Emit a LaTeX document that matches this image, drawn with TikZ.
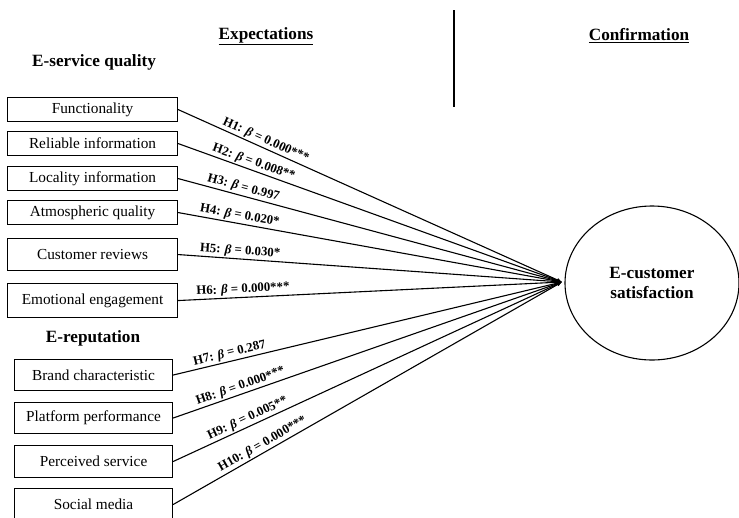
\documentclass[tikz,border=0pt]{standalone}
\usepackage{fontspec}
\setmainfont{Liberation Serif}
\usetikzlibrary{arrows.meta,shapes.geometric}
\begin{document}
\begin{tikzpicture}[x=1pt,y=-1pt,
  box/.style={draw,line width=1.1pt,minimum height=24pt,inner sep=0pt,font=\fontsize{15.3}{17}\selectfont,anchor=north west},
  head/.style={font=\fontsize{17.2}{19}\selectfont\bfseries},
  conn/.style={line width=1.1pt,-{Latex[length=5pt,width=4pt]}},
  lab/.style={sloped,above,inner sep=1.5pt,font=\fontsize{12.8}{14}\selectfont\bfseries}]
\useasboundingbox (0,0) rectangle (739,517);
\clip (0,0) rectangle (739,517);
% headings
\node[head] (exp) at (266,36) {\underline{Expectations}};
\node[head] (conf) at (639,36) {\underline{Confirmation}};
\node[head] (esq) at (94,62) {E-service quality};
\node[head] (erep) at (93,338) {E-reputation};
\coordinate (vt) at (454,10);
\coordinate (vb) at (454,107);
\draw[line width=1.5pt] (vt) -- (vb);
% boxes
\node[box,minimum width=170pt] (b1) at (7,97) {Functionality};
\node[box,minimum width=170pt] (b2) at (7,131) {Reliable information};
\node[box,minimum width=170pt] (b3) at (7,166) {Locality information};
\node[box,minimum width=170pt] (b4) at (7,200) {Atmospheric quality};
\node[box,minimum width=170pt,minimum height=32pt] (b5) at (7,238) {Customer reviews};
\node[box,minimum width=170pt,minimum height=34pt] (b6) at (7,283) {Emotional engagement};
\node[box,minimum width=158pt,minimum height=31pt] (b7) at (14,359) {Brand characteristic};
\node[box,minimum width=158pt,minimum height=31pt] (b8) at (14,402) {Platform performance};
\node[box,minimum width=158pt,minimum height=32pt] (b9) at (14,445) {Perceived service};
\node[box,minimum width=158pt,minimum height=32pt] (b10) at (14,488) {Social media};
% ellipse
\node[draw,line width=1.1pt,ellipse,minimum width=174pt,minimum height=154pt,align=center,
  font=\fontsize{17.2}{20}\selectfont\bfseries] (sat) at (652,283) {E-customer\\satisfaction};
\coordinate (tip) at (562,282);
% connectors
\draw[conn] (b1.east) -- node[lab,pos=0.22] {H1: \textit{β} = 0.000***} (tip);
\draw[conn] (b2.east) -- node[lab,pos=0.19] {H2: \textit{β} = 0.008**} (tip);
\draw[conn] (b3.east) -- node[lab,pos=0.165] {H3: \textit{β} = 0.997} (tip);
\draw[conn] (b4.east) -- node[lab,pos=0.157] {H4: \textit{β} = 0.020*} (tip);
\draw[conn] (b5.east) -- node[lab,pos=0.16] {H5: \textit{β} = 0.030*} (tip);
\draw[conn] (b6.east) -- node[lab,pos=0.17] {H6: \textit{β} = 0.000***} (tip);
\draw[conn] (b7.east) -- node[lab,pos=0.15] {H7: \textit{β} = 0.287} (tip);
\draw[conn] (b8.east) -- node[lab,pos=0.18] {H8: \textit{β} = 0.000***} (tip);
\draw[conn] (b9.east) -- node[lab,pos=0.2] {H9: \textit{β} = 0.005**} (tip);
\draw[conn] (b10.east) -- node[lab,pos=0.24] {H10: \textit{β} = 0.000***} (tip);
\end{tikzpicture}
\end{document}
